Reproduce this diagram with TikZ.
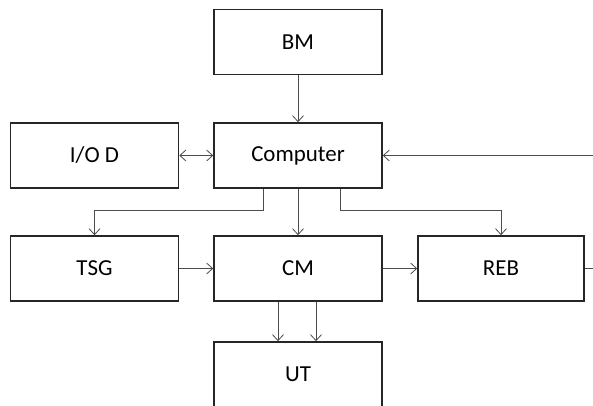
\documentclass[tikz,border=0pt]{standalone}
\usepackage{fontspec}
\setmainfont{Carlito}
\usepackage{tikz}
\usetikzlibrary{
    arrows.meta,
    calc,
    positioning
}

\begin{document}
\begin{tikzpicture}[x=1bp, y=-1bp,
                    blk/.style={draw=black!85, line width=1.6bp, minimum width=168bp,
                        minimum height=65bp, inner sep=0pt, font=\fontsize{23}{28}\selectfont},
                    wire/.style={draw=black!70, line width=0.8bp},
                    >={Straight Barb[length=6bp, width=11bp]}]
                    \useasboundingbox (0, 0) rectangle (593, 405);
                    % blocks
                    \node[blk] (bm) at (298, 42) {BM};
                    \node[blk] (comp) at (298, 155.5) {Computer};
                    \node[blk] (iod) at (94.5, 155.5) {I/O D};
                    \node[blk] (tsg) at (94.5, 268.5) {TSG};
                    \node[blk] (cm) at (298, 268.5) {CM};
                    \node[blk, minimum width=166bp] (reb) at (501, 268.5) {REB};
                    \node[blk] (ut) at (298, 374.5) {UT};
                    \coordinate (fbin) at (593, 155.5);
                    \coordinate (rebout) at (593, 268.5);
                    % connectors
                    \draw[wire, ->] (bm) -- (comp);
                    \draw[wire, <->] (iod) -- (comp);
                    \draw[wire, ->] (fbin) -- (comp);
                    \draw[wire, ->] ([xshift=-35bp]comp.south) -- ++(0, 22) -| (tsg.north);
                    \draw[wire, ->] (comp) -- (cm);
                    \draw[wire, ->] ([xshift=42bp]comp.south) -- ++(0, 22) -| (reb.north);
                    \draw[wire, ->] (tsg) -- (cm);
                    \draw[wire, ->] (cm) -- (reb);
                    \draw[wire] (reb) -- (rebout);
                    \foreach \d in {-20, 18} {
                        \draw[wire, ->] ([xshift=\d bp]cm.south) -- ([xshift=\d bp]ut.north);
                    }
                \end{tikzpicture}
\end{document}
